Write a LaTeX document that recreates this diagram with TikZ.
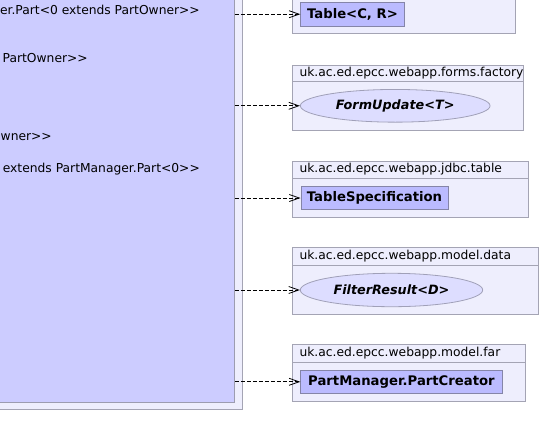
\documentclass[tikz,border=0pt]{standalone}
\usepackage{fontspec}
\setmainfont{DejaVu Sans}
\usetikzlibrary{arrows.meta,shapes.geometric}
\definecolor{pkgfill}{HTML}{EEEEFD}
\definecolor{pkgdraw}{HTML}{A4A4B4}
\definecolor{mainfill}{HTML}{CCCCFF}
\definecolor{maindraw}{HTML}{9C9CB0}
\definecolor{clsfill}{HTML}{BBBBFF}
\definecolor{clsdraw}{HTML}{8585A8}
\definecolor{ellfill}{HTML}{DDDDFF}
\definecolor{elldraw}{HTML}{A0A0B8}
\tikzset{
  pkgbox/.style={draw=pkgdraw,fill=pkgfill,line width=0.9pt,inner sep=0pt,anchor=north west},
  hdr/.style={anchor=west,inner sep=0pt,font=\fontsize{12.3}{14}\selectfont},
  clsbox/.style={draw=clsdraw,fill=clsfill,line width=0.9pt,inner sep=0pt,anchor=west,font=\fontsize{13.2}{15}\selectfont\bfseries},
  ifbox/.style={ellipse,draw=elldraw,fill=ellfill,line width=0.8pt,inner sep=0pt,font=\fontsize{12.8}{15}\selectfont\bfseries\itshape},
  dep/.style={draw=black,line width=0.8pt,dash pattern=on 4pt off 2pt,-{Straight Barb[length=10pt,width=7pt,line width=0.8pt]}},
  txt/.style={inner sep=0pt,font=\fontsize{12.3}{14}\selectfont}
}
\begin{document}
\begin{tikzpicture}[x=1pt,y=-1pt]
\useasboundingbox (0,0) rectangle (553,447);
\clip (0,0) rectangle (553,447);
% main package and class
\node[pkgbox,minimum width=262pt,minimum height=419.3pt] (mainpkg) at (-20,-10) {};
\node[draw=maindraw,fill=mainfill,line width=0.9pt,inner sep=0pt,anchor=north west,minimum width=254pt,minimum height=411.7pt] (mainc) at (-20,-10) {};
\node[txt,anchor=east] (t1) at (200,10) {er.Part<0 extends PartOwner>{}>};
\node[txt,anchor=west] (t2) at (2.5,57.7) {PartOwner>{}>};
\node[txt,anchor=west] (t3) at (0.5,137) {wner>{}>};
\node[txt,anchor=east] (t4) at (200,169) {extends PartManager.Part<0>{}>};
% package 1
\node[pkgbox,minimum width=223.3pt,minimum height=53pt] (p1) at (292,-20) {};
\node[clsbox,minimum width=103.4pt,minimum height=23.7pt] (c1) at (300.3,14.2) {Table<C, R>};
% package 2
\node[pkgbox,minimum width=230.7pt,minimum height=65pt] (p2) at (292,65) {};
\draw[draw=pkgdraw,line width=0.9pt] (p2.west |- 0,81) -- (p2.east |- 0,81);
\node[hdr] (h2) at (299.3,73) {uk.ac.ed.epcc.webapp.forms.factory};
\node[ifbox,minimum width=189.7pt,minimum height=32.7pt] (c2) at (395.2,105.8) {FormUpdate<T>};
% package 3
\node[pkgbox,minimum width=236.3pt,minimum height=56.6pt] (p3) at (292,160.7) {};
\draw[draw=pkgdraw,line width=0.9pt] (p3.west |- 0,178.5) -- (p3.east |- 0,178.5);
\node[hdr] (h3) at (299.3,169.6) {uk.ac.ed.epcc.webapp.jdbc.table};
\node[clsbox,minimum width=147pt,minimum height=22.6pt] (c3) at (300.5,198) {TableSpecification};
% package 4
\node[pkgbox,minimum width=246.3pt,minimum height=67pt] (p4) at (292,247.3) {};
\draw[draw=pkgdraw,line width=0.9pt] (p4.west |- 0,265.7) -- (p4.east |- 0,265.7);
\node[hdr] (h4) at (299.3,256.5) {uk.ac.ed.epcc.webapp.model.data};
\node[ifbox,minimum width=182.4pt,minimum height=33.4pt] (c4) at (391.5,290) {FilterResult<D>};
% package 5
\node[pkgbox,minimum width=233.3pt,minimum height=57pt] (p5) at (292,344.3) {};
\draw[draw=pkgdraw,line width=0.9pt] (p5.west |- 0,362.7) -- (p5.east |- 0,362.7);
\node[hdr] (h5) at (299.3,353.5) {uk.ac.ed.epcc.webapp.model.far};
\node[clsbox,minimum width=201.4pt,minimum height=23.7pt] (c5) at (300.3,381.8) {PartManager.PartCreator};
% dependencies
\draw[dep] (mainc.east |- c1.west) -- (c1.west);
\draw[dep] (mainc.east |- c2.west) -- (c2.west);
\draw[dep] (mainc.east |- c3.west) -- (c3.west);
\draw[dep] (mainc.east |- c4.west) -- (c4.west);
\draw[dep] (mainc.east |- c5.west) -- (c5.west);
\end{tikzpicture}
\end{document}
